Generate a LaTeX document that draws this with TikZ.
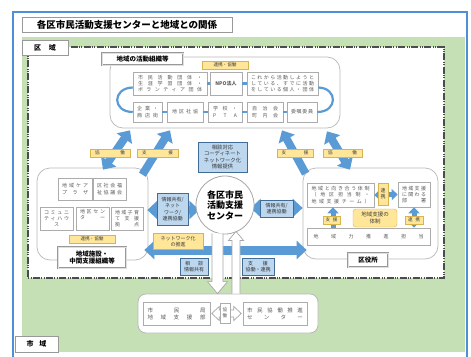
\documentclass[tikz,border=0pt]{standalone}
\usepackage{fontspec}
\setmainfont{Noto Sans CJK JP}
\usetikzlibrary{arrows.meta,calc,shadows}
\definecolor{ablue}{HTML}{5B9BD5}
\definecolor{lblue}{HTML}{BDD7EE}
\definecolor{yel}{HTML}{FFE699}
\definecolor{yeld}{HTML}{D9B44A}
\definecolor{grn}{HTML}{C5E0B4}
\definecolor{fblue}{HTML}{4F8FD6}
\definecolor{txt}{HTML}{595959}
\makeatletter
\newcommand\distr[2]{\hbox to #1{\dist@a#2\@nil}}
\def\dist@a#1#2\@nil{#1\ifx\relax#2\relax\else\hfill\dist@a#2\@nil\fi}
\makeatother
\newcommand\hollowv[5]{%
  \draw[harrow] let \p1=(#1), \p2=(#2), \n1={sign(\y1-\y2)} in
   (\x1-#3,\y1) -- (\x1-#3,\y2+\n1*#5) -- (\x1-#4,\y2+\n1*#5) -- (\x1,\y2)
   -- (\x1+#4,\y2+\n1*#5) -- (\x1+#3,\y2+\n1*#5) -- (\x1+#3,\y1);}
\begin{document}
\begin{tikzpicture}[x=1pt,y=-1pt,
  box/.style={draw=gray!65, line width=0.5pt, fill=white, inner sep=0pt, align=center, text=txt, font=\fontsize{5}{6.3}\selectfont},
  ylab/.style={draw=yeld, line width=0.4pt, fill=yel, inner sep=0pt, align=center, text=black!75, font=\fontsize{4.6}{5.5}\selectfont},
  bbox/.style={draw=ablue!70!black, line width=0.5pt, fill=lblue, inner sep=0pt, align=center, text=black!80, font=\fontsize{5}{6.3}\selectfont},
  region/.style={draw=gray!55, line width=0.7pt, fill=white, rounded corners=13pt, inner sep=0pt},
  tag/.style={draw=gray!80, line width=0.7pt, fill=white, inner sep=0pt, drop shadow={shadow xshift=0.9pt, shadow yshift=-0.9pt, fill=gray!55, opacity=1}},
  tagd/.style={draw=gray!80, double=gray!25, double distance=0.9pt, fill=white, inner sep=0pt, align=center, font=\fontsize{6.5}{7.5}\selectfont\bfseries},
  conn/.style={draw=ablue, line width=2.2pt},
  bar/.style={draw=ablue, line width=8pt, -{Triangle[length=10pt,width=18pt]}},
  bar2/.style={draw=ablue, line width=8pt, {Triangle[length=10pt,width=18pt]}-{Triangle[length=10pt,width=18pt]}},
  sar/.style={draw=ablue, line width=5pt, -{Triangle[length=6pt,width=11pt]}},
  sar2/.style={draw=ablue, line width=5pt, {Triangle[length=6pt,width=11pt]}-{Triangle[length=6pt,width=11pt]}},
  harrow/.style={draw=gray!70, fill=white, line width=0.7pt}]
\useasboundingbox (0,0) rectangle (471,356);
\fill[white] (0,0) rectangle (471,356);
\draw[fblue, line width=1.3pt] (13,362) -- (13,12) -- (467,12) -- (467,362);
\fill[grn] (22,37) rectangle (465,352);
\draw[black!70, line width=1.1pt, fill=white, dash pattern=on 7pt off 1.5pt on 0.8pt off 1.5pt on 0.8pt off 1.5pt] (28,47) rectangle (444,278);

% title and area tags
\node[tag, minimum width=210pt, minimum height=15pt, font=\fontsize{9.5}{10}\selectfont\bfseries] (title) at (127,24.5) {各区市民活動支援センターと地域との関係};
\node[tag, minimum width=46pt, minimum height=15pt, font=\fontsize{7}{8}\selectfont\bfseries] (ku) at (45,48) {\distr{22pt}{区域}};
\node[tag, minimum width=43pt, minimum height=16pt, font=\fontsize{7}{8}\selectfont\bfseries] (shi) at (36.5,344) {\distr{20pt}{市域}};

% activity organisations
\node[region, minimum width=230pt, minimum height=71pt] (act) at (225,92.5) {};
\node[tagd, minimum width=81pt, minimum height=12pt] (actlab) at (142.5,59) {地域の活動組織等};
\node[ylab, minimum width=46pt, minimum height=8pt] (yact) at (225,65) {連携・協働};
\node[box, minimum width=74pt, minimum height=23pt] (a1) at (170,83.5) {\distr{64pt}{市民活動団体・}\\\distr{64pt}{生涯学習団体・}\\\distr{64pt}{ボランティア団体}};
\node[box, minimum width=32pt, minimum height=23pt, font=\fontsize{5}{6.3}\selectfont\bfseries] (a2) at (226,83.5) {NPO法人};
\node[box, minimum width=71pt, minimum height=23pt] (a3) at (282.5,83.5) {\distr{63pt}{これから活動しようと}\\\distr{63pt}{している、すでに活動}\\\distr{63pt}{をしている個人・団体}};
\node[box, minimum width=29pt, minimum height=20pt] (b1) at (147.5,112) {\distr{21pt}{企業・}\\\distr{21pt}{商店街}};
\node[box, minimum width=36pt, minimum height=20pt] (b2) at (185,112) {\distr{26pt}{地区社協}};
\node[box, minimum width=34pt, minimum height=20pt] (b3) at (225,112) {\distr{24pt}{学校・}\\\distr{24pt}{PTA}};
\node[box, minimum width=36pt, minimum height=20pt] (b4) at (265,112) {\distr{26pt}{自治会}\\\distr{26pt}{町内会}};
\node[box, minimum width=30pt, minimum height=20pt] (b5) at (302,112) {\distr{22pt}{委嘱委員}};
\draw[conn] (a1) -- (a2);
\draw[conn] (a2) -- (a3);
\draw[conn] (b1) -- (b2);
\draw[conn] (b2) -- (b3);
\draw[conn] (b3) -- (b4);
\draw[conn] (b4) -- (b5);
\draw[conn] ($(a1.west)+(0,4)$) .. controls (112,88) and (112,112) .. (b1.west);
\draw[conn] ($(a3.east)+(0,4)$) .. controls (338,88) and (338,112) .. (b5.east);

% left and right region boxes
\node[region, minimum width=111pt, minimum height=92pt] (lr) at (92.5,214) {};
\node[region, minimum width=135pt, minimum height=91pt] (rr) at (370.5,213.5) {};

% diagonal arrows
\draw[bar2] ($(lr.north)+(10.5,2)$) -- ($(act.south)+(-95,2)$);
\draw[bar] ($(lr.north east)+(-6,7)$) -- ($(act.south)+(-55,2)$);
\draw[bar] ($(rr.north west)+(3,6)$) -- ($(act.south)+(57,2)$);
\draw[bar2] ($(act.south)+(102,3)$) -- ($(rr.north)+(-20.5,2)$);
\node[ylab, minimum width=40pt, minimum height=8pt] (yl1) at (110,153) {\distr{30pt}{協働}};
\node[ylab, minimum width=41pt, minimum height=8pt] (yl2) at (157.5,153) {\distr{31pt}{支援}};
\node[ylab, minimum width=36pt, minimum height=8pt] (yr1) at (295,153) {\distr{27pt}{支援}};
\node[ylab, minimum width=39pt, minimum height=8pt] (yr2) at (342.5,153) {\distr{29pt}{協働}};

% left region contents
\node[box, minimum width=34pt, minimum height=22pt] (l1) at (75,189) {\distr{26pt}{地域ケア}\\\distr{26pt}{プラザ}};
\node[box, minimum width=33pt, minimum height=22pt] (l2) at (109.5,189) {\distr{25pt}{区社会福}\\\distr{25pt}{祉協議会}};
\node[box, minimum width=33pt, minimum height=23pt] (l3) at (56.5,218.5) {\distr{25pt}{コミュニ}\\\distr{25pt}{ティハウ}\\ス};
\node[box, minimum width=33pt, minimum height=23pt] (l4) at (92.5,218.5) {\distr{25pt}{地区セン}\\\distr{25pt}{ター}\\[2pt]};
\node[box, minimum width=32pt, minimum height=23pt] (l5) at (127,218.5) {\distr{24pt}{地域子育}\\\distr{24pt}{て支援}\\\distr{24pt}{拠点}};
\node[ylab, minimum width=46pt, minimum height=8pt] (yl3) at (92,239) {連携・協働};
\node[tagd, minimum width=68pt, minimum height=21pt] (lrlab) at (92,257.5) {地域施設・\\中間支援組織等};

% right region contents
\node[box, minimum width=67pt, minimum height=24pt] (r1) at (340.5,195) {\distr{58pt}{地域と向き合う体制}\\\distr{58pt}{（地区担当制・}\\\distr{58pt}{地域支援チーム）}};
\node[box, minimum width=32pt, minimum height=25pt] (r2) at (414,194.5) {\distr{24pt}{地域支援}\\\distr{24pt}{に関わる}\\\distr{24pt}{部署}};
\node[box, minimum width=123pt, minimum height=17pt] (r3) at (368.5,236.5) {\distr{110pt}{地域力推進担当}};
\draw[sar2] (r1.east) -- (r2.west);
\node[ylab, minimum width=10pt, minimum height=22pt, font=\fontsize{5}{6}\selectfont] (yr3) at (383,194) {連\\携};
\draw[sar] ($(r3.north)+(-35.5,0)$) -- ($(r1.south)+(-7.5,0)$);
\draw[sar2] (r2.south) -- ($(r3.north)+(45.5,0)$);
\node[ylab, minimum width=17pt, minimum height=8pt] (yr4) at (331.5,220) {\distr{12pt}{支援}};
\node[ylab, minimum width=18pt, minimum height=8pt] (yr5) at (414,220) {\distr{12pt}{連携}};
\node[ylab, rounded corners=3pt, minimum width=44pt, minimum height=18pt, font=\fontsize{5.5}{6.8}\selectfont] (yr6) at (375,218) {地域支援の\\体制};
\node[tagd, minimum width=40pt, minimum height=14pt] (rrlab) at (368,260) {区役所};

% center
\draw[bar2] ($(lr.east)+(-1,-4)$) -- ($(lr.east)+(51,-4)$);
\draw[bar2] ($(rr.west)+(-52,-5.5)$) -- ($(rr.west)+(0,-5.5)$);
\node[circle, draw=gray!70, line width=0.8pt, fill=white, minimum size=58pt, inner sep=0pt, align=center, font=\fontsize{9}{10.5}\selectfont\bfseries] (c) at (225,205) {各区市民\\活動支援\\センター};
\node[bbox, minimum width=49pt, minimum height=30pt, font=\fontsize{5.3}{6.6}\selectfont] (sod) at (222.5,157) {相談対応\\コーディネート\\ネットワーク化\\情報提供};
\node[bbox, minimum width=31pt, minimum height=32pt] (li) at (172.5,209) {情報共有/\\ネット\\ワーク/\\連携協働};
\node[bbox, minimum width=33pt, minimum height=17pt] (ri) at (276.5,208.5) {情報共有/\\連携協働};
\draw[bar2, line width=9pt] ($(lr.east)+(-4,36)$) -- ($(rr.west)+(4,36.5)$);
\node[ylab, minimum width=50pt, minimum height=16pt, font=\fontsize{5}{6.3}\selectfont] (nw) at (178,241.5) {ネットワーク化\\の推進};

% city level
\node[region, rounded corners=8pt, line width=0.8pt, minimum width=180pt, minimum height=39pt] (m) at (228,313.5) {};
\node[box, minimum width=67pt, minimum height=23pt, font=\fontsize{5.5}{7}\selectfont] (m1) at (176.5,313.5) {\distr{58pt}{市民局}\\\distr{58pt}{地域支援部}};
\node[box, minimum width=64pt, minimum height=23pt, font=\fontsize{5.5}{7}\selectfont] (m2) at (275,313.5) {\distr{56pt}{市民協働推進}\\\distr{56pt}{センター}};
\draw[harrow] let \p1=(m1.east), \p2=(m2.west) in
  (\x1+1.5pt,\y1) -- (\x1+9pt,\y1+7pt) -- (\x1+9pt,\y1+3.5pt) -- (\x2-9pt,\y1+3.5pt) -- (\x2-9pt,\y1+7pt) -- (\x2-1.5pt,\y1)
  -- (\x2-9pt,\y1-7pt) -- (\x2-9pt,\y1-3.5pt) -- (\x1+9pt,\y1-3.5pt) -- (\x1+9pt,\y1-7pt) -- cycle;
\node[box, minimum width=10pt, minimum height=20pt, font=\fontsize{4.6}{6}\selectfont] (kd) at (225,313) {協\\働};
\hollowv{$(c.south)+(-7.5,-1)$}{$(m.north)+(-10.5,0)$}{5.5pt}{10pt}{12pt}
\hollowv{$(m.north)+(8,0)$}{$(c.south)+(11,-3)$}{4pt}{7.5pt}{9pt}
\node[bbox, minimum width=28pt, minimum height=17pt] (sj) at (194,266.5) {\distr{18pt}{相談}\\情報共有};
\node[bbox, minimum width=32pt, minimum height=17pt] (sk) at (258,266.5) {\distr{20pt}{支援}\\協働・連携};
\end{tikzpicture}
\end{document}
